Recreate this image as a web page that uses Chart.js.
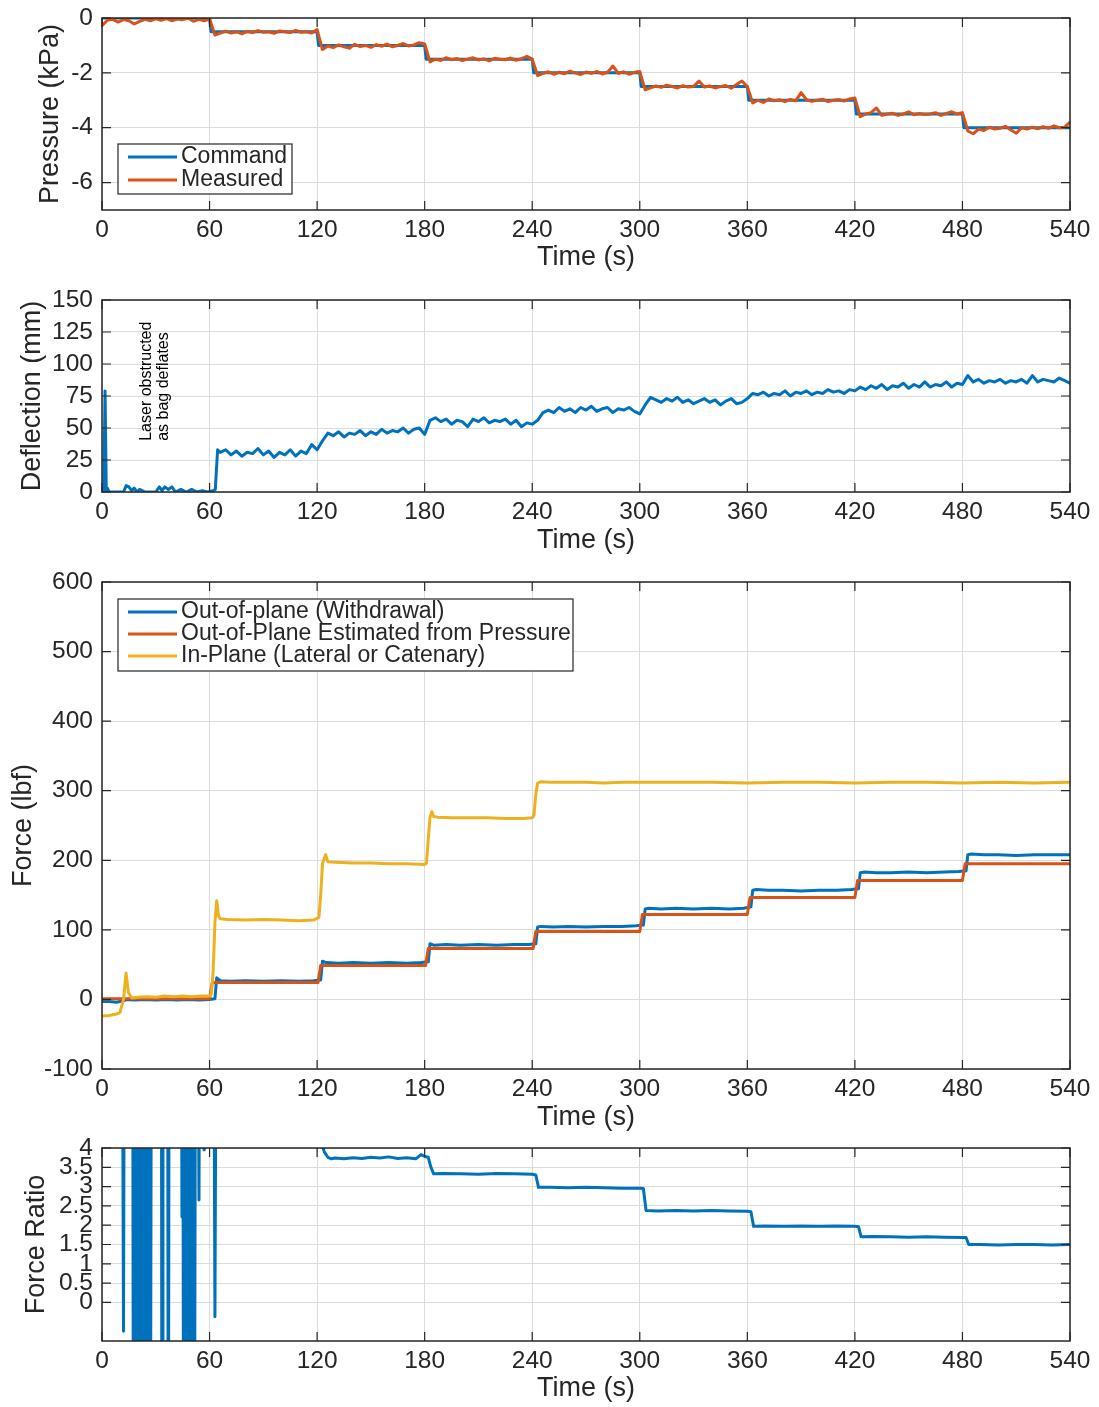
<!DOCTYPE html>
<html>
<head>
<meta charset="utf-8">
<title>Pressure, deflection and force vs time</title>
<script src="https://cdn.jsdelivr.net/npm/chart.js@4.4.1/dist/chart.umd.min.js"></script>
<style>
  body { margin: 0; background: #fff; }
  #wrap { position: relative; width: 1099px; height: 1407px; overflow: hidden; }
  canvas { position: absolute; left: 0; }
</style>
</head>
<body>
<div id="wrap">
  <canvas id="pressureChart" width="1099" height="286" style="top:-6px"></canvas>
  <canvas id="deflectionChart" width="1099" height="293" style="top:270px"></canvas>
  <canvas id="forceChart" width="1099" height="590" style="top:550px"></canvas>
  <canvas id="ratioChart" width="1099" height="287" style="top:1120px"></canvas>
</div>
<script>
// colours (MATLAB defaults)
const BLUE = "#0072BD"
const ORANGE = "#D95319"
const YELLOW = "#EDB120"
const INK = "#262626"
const GRID = "#dcdcdc"

// ---- Pressure: command and measured (kPa) ----
const cmdT = [0, 60, 60.8, 120, 120.8, 180, 180.8, 240, 240.8, 300, 300.8, 360, 360.8, 420, 420.8, 480, 480.8, 540]
const cmdP = [0, 0, -0.5, -0.5, -1, -1, -1.5, -1.5, -2, -2, -2.5, -2.5, -3, -3, -3.5, -3.5, -4, -4]

const measT = [
    0, 3, 6, 9, 12, 15, 18, 21, 24, 27, 30, 33, 36, 39, 42, 45, 48, 51, 54, 57, 60,
    63, 66, 69, 72, 75, 78, 81, 84, 87, 90, 93, 96, 99, 102, 105, 108, 111, 114, 117, 120,
    123, 126, 129, 132, 135, 138, 141, 144, 147, 150, 153, 156, 159, 162, 165, 168, 171, 174, 177, 180,
    183, 186, 189, 192, 195, 198, 201, 204, 207, 210, 213, 216, 219, 222, 225, 228, 231, 234, 237, 240,
    243, 246, 249, 252, 255, 258, 261, 264, 267, 270, 273, 276, 279, 282, 285, 288, 291, 294, 297, 300,
    303, 306, 309, 312, 315, 318, 321, 324, 327, 330, 333, 336, 339, 342, 345, 348, 351, 354, 357, 360,
    363, 366, 369, 372, 375, 378, 381, 384, 387, 390, 393, 396, 399, 402, 405, 408, 411, 414, 417, 420,
    423, 426, 429, 432, 435, 438, 441, 444, 447, 450, 453, 456, 459, 462, 465, 468, 471, 474, 477, 480,
    483, 486, 489, 492, 495, 498, 501, 504, 507, 510, 513, 516, 519, 522, 525, 528, 531, 534, 537, 540]
const measP = [
    -0.28, -0.08, -0.05, -0.15, -0.06, -0.1, -0.22, -0.12, -0.05, -0.1, -0.03, -0.08, -0.02, -0.1, -0.04, -0.06, -0.01, -0.12, -0.05, -0.1, -0.04,
    -0.62, -0.55, -0.48, -0.55, -0.5, -0.58, -0.49, -0.53, -0.46, -0.52, -0.5, -0.56, -0.47, -0.5, -0.53, -0.45, -0.52, -0.5, -0.55, -0.42,
    -1.15, -1.02, -1.08, -0.98, -1.05, -1.1, -0.96, -1.04, -1.0, -1.07, -0.97, -1.03, -0.95, -1.05, -1.0, -0.93, -1.02, -0.98, -0.9, -0.95,
    -1.6, -1.5, -1.55, -1.45, -1.52, -1.48, -1.55, -1.5, -1.45, -1.53, -1.49, -1.56, -1.47, -1.5, -1.52, -1.46, -1.54, -1.48, -1.4, -1.5,
    -2.1, -2.02, -1.96, -2.05, -1.98, -2.03, -1.94, -2.0, -2.06, -1.97, -2.02, -1.95, -2.04, -1.98, -1.75, -2.02, -1.96, -2.05, -1.98, -1.95,
    -2.62, -2.55, -2.48, -2.53, -2.45, -2.5, -2.55, -2.47, -2.52, -2.5, -2.3, -2.52, -2.48, -2.55, -2.5, -2.46, -2.56, -2.42, -2.3, -2.5,
    -3.1, -3.0, -3.08, -2.95, -3.02, -2.98, -3.05, -2.97, -3.02, -2.72, -2.98, -3.04, -3.0, -2.96, -3.05, -3.0, -2.97, -3.03, -2.95, -2.92,
    -3.6, -3.5, -3.45, -3.28, -3.55, -3.5, -3.47, -3.55, -3.5, -3.42, -3.53, -3.48, -3.52, -3.5, -3.45, -3.55, -3.48, -3.42, -3.5, -3.45,
    -4.12, -4.22, -4.05, -4.1, -3.98, -4.05, -4.02, -3.95, -4.08, -4.2, -4.0, -4.05, -3.98, -4.04, -3.96, -4.02, -3.93, -4.0, -3.98, -3.8]

// ---- Deflection (mm) ----
const deflT = [
    0, 1, 1.7, 2.4, 3, 4, 6, 9, 12, 13.5, 15, 16.5, 18, 19.5, 21, 24, 27, 30, 32, 33.5,
    35, 37, 39, 41, 44, 47, 50, 53, 56, 59, 62, 63.2, 64.5, 66,
    69, 72, 75, 78, 81, 84, 87, 90, 93, 96, 99, 102, 105, 108, 111, 114, 117, 120,
    123, 126, 129, 132, 135, 138, 141, 144, 147, 150, 153, 156, 159, 162, 165, 168, 171, 174, 177, 180,
    183, 186, 189, 192, 195, 198, 201, 204, 207, 210, 213, 216, 219, 222, 225, 228, 231, 234, 237, 240,
    243, 246, 249, 252, 255, 258, 261, 264, 267, 270, 273, 276, 279, 282, 285, 288, 291, 294, 297, 300,
    303, 306, 309, 312, 315, 318, 321, 324, 327, 330, 333, 336, 339, 342, 345, 348, 351, 354, 357, 360,
    363, 366, 369, 372, 375, 378, 381, 384, 387, 390, 393, 396, 399, 402, 405, 408, 411, 414, 417, 420,
    423, 426, 429, 432, 435, 438, 441, 444, 447, 450, 453, 456, 459, 462, 465, 468, 471, 474, 477, 480,
    483, 486, 489, 492, 495, 498, 501, 504, 507, 510, 513, 516, 519, 522, 525, 528, 531, 534, 537, 540]
const deflV = [
    0, 0, 79, 0, 3, 0, 0, 0, 0, 5, 4, 1, 3, 0, 2, 0, 0, 0, 4, 1,
    4, 2, 4, 0, 2, 0, 2, 0, 1, 0, 1, 2, 33, 31,
    33, 29, 32, 28, 31, 30, 34, 29, 32, 27, 31, 29, 33, 28, 32, 30, 37, 33,
    40, 46, 44, 47, 43, 46, 45, 48, 44, 47, 45, 49, 46, 48, 47, 50, 46, 49, 50, 45,
    56, 58, 55, 57, 53, 56, 55, 51, 57, 55, 58, 54, 56, 55, 57, 53, 56, 51, 54, 53,
    56, 62, 64, 62, 66, 63, 65, 62, 66, 64, 67, 63, 65, 66, 62, 65, 64, 66, 63, 61,
    68, 74, 72, 70, 73, 71, 74, 70, 72, 69, 71, 73, 70, 72, 68, 71, 73, 69, 70, 73,
    77, 76, 78, 75, 77, 76, 79, 75, 78, 77, 79, 76, 78, 77, 80, 78, 79, 77, 80, 79,
    82, 80, 83, 81, 84, 80, 83, 82, 85, 81, 84, 82, 86, 82, 84, 83, 86, 82, 85, 84,
    91, 86, 88, 85, 87, 86, 88, 85, 87, 86, 88, 85, 91, 86, 88, 87, 86, 89, 87, 85]
const noteLines = ["Laser obstructed", "as bag deflates"]

// ---- Forces (lbf) ----
const oopT = [
    0, 4, 8, 12, 14, 18, 24, 30, 36, 42, 48, 54, 60, 63, 64, 66, 72, 80, 90, 100,
    110, 118, 122, 123, 125, 132, 140, 150, 160, 170, 178, 182, 183, 185, 192, 200, 210, 220, 230, 238,
    242, 243, 245, 252, 260, 270, 280, 290, 298, 302, 303, 305, 312, 320, 330, 340, 350, 358, 362, 363,
    365, 372, 380, 390, 400, 410, 418, 422, 423, 425, 432, 440, 450, 460, 470, 478, 482, 483, 485, 492,
    500, 510, 520, 530, 540]
const oopF = [
    -3, -3, -4, -2, 0, -1, 0, -1, 0, -1, 0, -1, 0, 1, 31, 27, 26, 27, 26, 27,
    26, 27, 28, 55, 53, 52, 53, 52, 53, 52, 53, 54, 80, 78, 79, 78, 79, 78, 79, 79,
    80, 104, 105, 104, 105, 104, 105, 105, 106, 107, 130, 131, 130, 131, 130, 131, 130, 131, 133, 157,
    158, 157, 157, 156, 157, 157, 158, 159, 182, 183, 182, 182, 183, 182, 183, 184, 185, 208, 209, 208,
    208, 207, 208, 208, 208]

const estT = [0, 60, 61.5, 120.5, 122, 180.5, 182, 240.5, 242, 300, 301.5, 360, 361.5, 420, 421.5, 480, 481.5, 540]
const estF = [1, 1, 24.4, 24.4, 48.8, 48.8, 73.2, 73.2, 97.6, 97.6, 122, 122, 146.4, 146.4, 170.8, 170.8, 195.2, 195.2]

const ipT = [
    0, 4, 8, 10, 12, 13.4, 14.7, 16.7, 20, 25, 30, 35, 40, 45, 50, 55, 60, 61, 62, 63,
    64, 65, 66, 70, 80, 90, 100, 110, 118, 121, 122, 123, 124, 124.7, 126, 130, 140, 150, 160, 170,
    180, 181, 182, 183, 184, 185, 187, 195, 205, 215, 225, 235, 240, 241, 242, 243, 245, 250, 260, 270,
    280, 290, 300, 320, 340, 360, 380, 400, 420, 440, 460, 480, 500, 520, 540]
const ipF = [
    -24, -23, -21, -19, 0, 38, 10, 2, 3, 4, 3, 5, 4, 5, 4, 5, 5, 8, 40, 110,
    142, 120, 116, 115, 114, 115, 114, 113, 114, 118, 150, 195, 203, 208, 198, 197, 196, 196, 195, 195,
    194, 196, 230, 262, 270, 263, 262, 261, 261, 261, 260, 260, 261, 265, 295, 311, 313, 312, 312, 312,
    311, 312, 312, 312, 312, 311, 312, 312, 311, 312, 312, 311, 312, 311, 312]

// ---- Force ratio (in-plane / out-of-plane) ----
const ratioT = [
    0, 5, 10, 11.5, 12, 12.5, 17, 17.6, 18.2, 18.8, 19.4, 20, 21, 21.6, 22.2, 23, 24, 24.6, 25.2, 25.8,
    26.4, 27, 27.6, 28.2, 30, 33, 33.5, 34, 36.5, 37, 37.5, 40, 44.3, 44.6, 45, 45.6, 46.2, 46.8, 47.4, 48,
    48.6, 49.2, 49.8, 50.4, 51, 51.6, 52.2, 53.8, 54.1, 54.4, 56, 57, 58, 60, 62.6, 63, 63.4, 66, 80, 100,
    120, 122, 123, 124, 126, 128, 130, 135, 140, 145, 150, 155, 160, 165, 170, 175, 178, 180, 182, 183.5,
    185, 190, 200, 210, 220, 230, 240, 242, 243.5, 250, 260, 270, 280, 290, 300, 302, 303.5, 310, 320, 330,
    340, 350, 360, 362, 363.5, 370, 380, 390, 400, 410, 420, 422, 423.5, 430, 440, 450, 460, 470, 480, 482,
    483.5, 490, 500, 510, 520, 530, 540]
const ratioV = [
    8, 7, 9, 6, -0.75, 9, 12, -8, 10, -9, 11, -7, 9, -6, 14, -10, 8, -5, 12, -8,
    9, -6, 10, 6, 12, 15, -9, 10, 14, -8, 11, 20, 9, 2.22, 10, -8, 11, -7, 9, -9,
    12, -6, 8, -10, 10, -5, 9, 6, 2.65, 7, 4.1, 3.95, 4.3, 6, 5, -0.37, 4.6, 4.4, 4.3, 4.4,
    4.4, 4.3, 4.05, 3.9, 3.76, 3.72, 3.74, 3.72, 3.75, 3.73, 3.76, 3.74, 3.77, 3.73, 3.75, 3.72, 3.83, 3.78, 3.76, 3.5,
    3.33, 3.34, 3.33, 3.32, 3.34, 3.33, 3.32, 3.3, 2.98, 2.98, 2.97, 2.98, 2.97, 2.96, 2.96, 2.95, 2.38, 2.37, 2.38, 2.37,
    2.38, 2.37, 2.36, 2.35, 1.97, 1.98, 1.97, 1.98, 1.97, 1.98, 1.97, 1.96, 1.7, 1.71, 1.7, 1.69, 1.7, 1.69, 1.68, 1.68,
    1.5, 1.5, 1.49, 1.5, 1.5, 1.49, 1.5]

Chart.defaults.font.family = '"Liberation Sans", Arial, Helvetica, sans-serif'
Chart.defaults.color = INK
const tickFont = { size: 24.5 }
const titleFont = { size: 27 }

function xy(t, v) {
    return t.map((x, i) => ({ x: x, y: v[i] }))
}

function series(label, t, v, color, order) {
    return {
        label: label,
        data: xy(t, v),
        borderColor: color,
        backgroundColor: color,
        borderWidth: 3,
        borderJoinStyle: "round",
        borderCapStyle: "round",
        pointRadius: 0,
        fill: false,
        tension: 0,
        order: order,
    }
}

// axes box with inward ticks, like MATLAB
const framePlugin = {
    id: "frame",
    afterDatasetsDraw(chart) {
        const { ctx, chartArea: a, scales } = chart
        ctx.save()
        ctx.strokeStyle = INK
        ctx.lineWidth = 1.2
        ctx.beginPath()
        scales.x.ticks.forEach((t) => {
            const px = scales.x.getPixelForValue(t.value)
            ctx.moveTo(px, a.bottom)
            ctx.lineTo(px, a.bottom - 9)
            ctx.moveTo(px, a.top)
            ctx.lineTo(px, a.top + 9)
        })
        scales.y.ticks.forEach((t) => {
            const py = scales.y.getPixelForValue(t.value)
            ctx.moveTo(a.left, py)
            ctx.lineTo(a.left + 9, py)
            ctx.moveTo(a.right, py)
            ctx.lineTo(a.right - 9, py)
        })
        ctx.stroke()
        ctx.lineWidth = 1.5
        ctx.strokeRect(a.left, a.top, a.right - a.left, a.bottom - a.top)
        ctx.restore()
    },
}

// boxed legend inside the axes
const boxLegendPlugin = {
    id: "boxLegend",
    afterDatasetsDraw(chart, args, opts) {
        const { ctx, chartArea: a } = chart
        const x0 = a.left + opts.dx
        const y0 = a.top + opts.dy
        ctx.save()
        ctx.fillStyle = "#fff"
        ctx.fillRect(x0, y0, opts.w, opts.h)
        ctx.strokeStyle = INK
        ctx.lineWidth = 1.2
        ctx.strokeRect(x0, y0, opts.w, opts.h)
        ctx.font = '23px "Liberation Sans", Arial, Helvetica, sans-serif'
        ctx.textBaseline = "middle"
        ctx.textAlign = "left"
        chart.data.datasets.forEach((ds, i) => {
            const y = y0 + opts.first + i * opts.rowH
            ctx.strokeStyle = ds.borderColor
            ctx.lineWidth = 3
            ctx.beginPath()
            ctx.moveTo(x0 + 10, y)
            ctx.lineTo(x0 + 59, y)
            ctx.stroke()
            ctx.fillStyle = INK
            ctx.fillText(ds.label, x0 + 63, y)
        })
        ctx.restore()
    },
}

// rotated note placed in data coordinates
const notePlugin = {
    id: "note",
    afterDatasetsDraw(chart, args, opts) {
        const { ctx, scales } = chart
        const x = scales.x.getPixelForValue(opts.t)
        const y = scales.y.getPixelForValue(opts.v)
        ctx.save()
        ctx.translate(x, y)
        ctx.rotate(-Math.PI / 2)
        ctx.font = '16px "Liberation Sans", Arial, Helvetica, sans-serif'
        ctx.fillStyle = "#000"
        ctx.textAlign = "left"
        ctx.textBaseline = "middle"
        opts.lines.forEach((s, i) => ctx.fillText(s, 0, i * 17))
        ctx.restore()
    },
}

function makeChart(id, datasets, o) {
    return new Chart(document.getElementById(id), {
        type: "line",
        data: { datasets: datasets },
        options: {
            responsive: false,
            animation: false,
            devicePixelRatio: 1,
            events: [],
            layout: { padding: { left: 0, right: 29, top: o.top, bottom: 0 } },
            plugins: {
                legend: { display: false },
                tooltip: { enabled: false },
                boxLegend: o.legend || false,
                note: o.note || false,
            },
            scales: {
                x: {
                    type: "linear",
                    min: 0,
                    max: 540,
                    ticks: { stepSize: 60, padding: 6, font: tickFont, color: INK, maxRotation: 0, autoSkip: false },
                    grid: { color: GRID, drawTicks: false },
                    border: { display: false },
                    title: { display: true, text: "Time (s)", font: titleFont, color: INK, padding: { top: 0, bottom: o.xPad } },
                    afterFit: (s) => { s.height = o.xh },
                },
                y: {
                    type: "linear",
                    min: o.ymin,
                    max: o.ymax,
                    ticks: {
                        stepSize: o.step, padding: 9, font: tickFont, color: INK,
                        includeBounds: false, autoSkip: false,
                        callback: (v) => String(v),
                    },
                    grid: { color: GRID, drawTicks: false },
                    border: { display: false },
                    title: { display: true, text: o.ylabel, font: titleFont, color: INK, padding: { top: o.yPad, bottom: 0 } },
                    afterFit: (s) => { s.width = 102 },
                    afterBuildTicks: (s) => { s.ticks = s.ticks.filter((t) => t.value >= o.firstTick) },
                },
            },
        },
        plugins: [framePlugin, boxLegendPlugin, notePlugin],
    })
}

// Pressure
var pressureChart = makeChart("pressureChart", [
    series("Command", cmdT, cmdP, BLUE, 2),
    series("Measured", measT, measP, ORANGE, 1),
], {
    top: 24, xh: 70, xPad: 6, yPad: 34, ymin: -7, ymax: 0, step: 2, firstTick: -7,
    ylabel: "Pressure (kPa)",
    legend: { dx: 16, dy: 126, w: 174, h: 50, first: 13, rowH: 23 },
})

// Deflection
var deflectionChart = makeChart("deflectionChart", [
    series("Deflection", deflT, deflV, BLUE, 1),
], {
    top: 30, xh: 71, xPad: 6, yPad: 16, ymin: 0, ymax: 150, step: 25, firstTick: 0,
    ylabel: "Deflection (mm)",
    note: { t: 25, v: 40, lines: noteLines },
})

// Force
var forceChart = makeChart("forceChart", [
    series("Out-of-plane (Withdrawal)", oopT, oopF, BLUE, 3),
    series("Out-of-Plane Estimated from Pressure", estT, estF, ORANGE, 2),
    series("In-Plane (Lateral or Catenary)", ipT, ipF, YELLOW, 1),
], {
    top: 32, xh: 71, xPad: 6, yPad: 7, ymin: -100, ymax: 600, step: 100, firstTick: -100,
    ylabel: "Force (lbf)",
    legend: { dx: 16, dy: 17, w: 455, h: 72, first: 13, rowH: 22 },
})

// Force ratio
var ratioChart = makeChart("ratioChart", [
    series("Force Ratio", ratioT, ratioV, BLUE, 1),
], {
    top: 28, xh: 66, xPad: 2, yPad: 20, ymin: -1, ymax: 4, step: 0.5, firstTick: 0,
    ylabel: "Force Ratio",
})
</script>
</body>
</html>
